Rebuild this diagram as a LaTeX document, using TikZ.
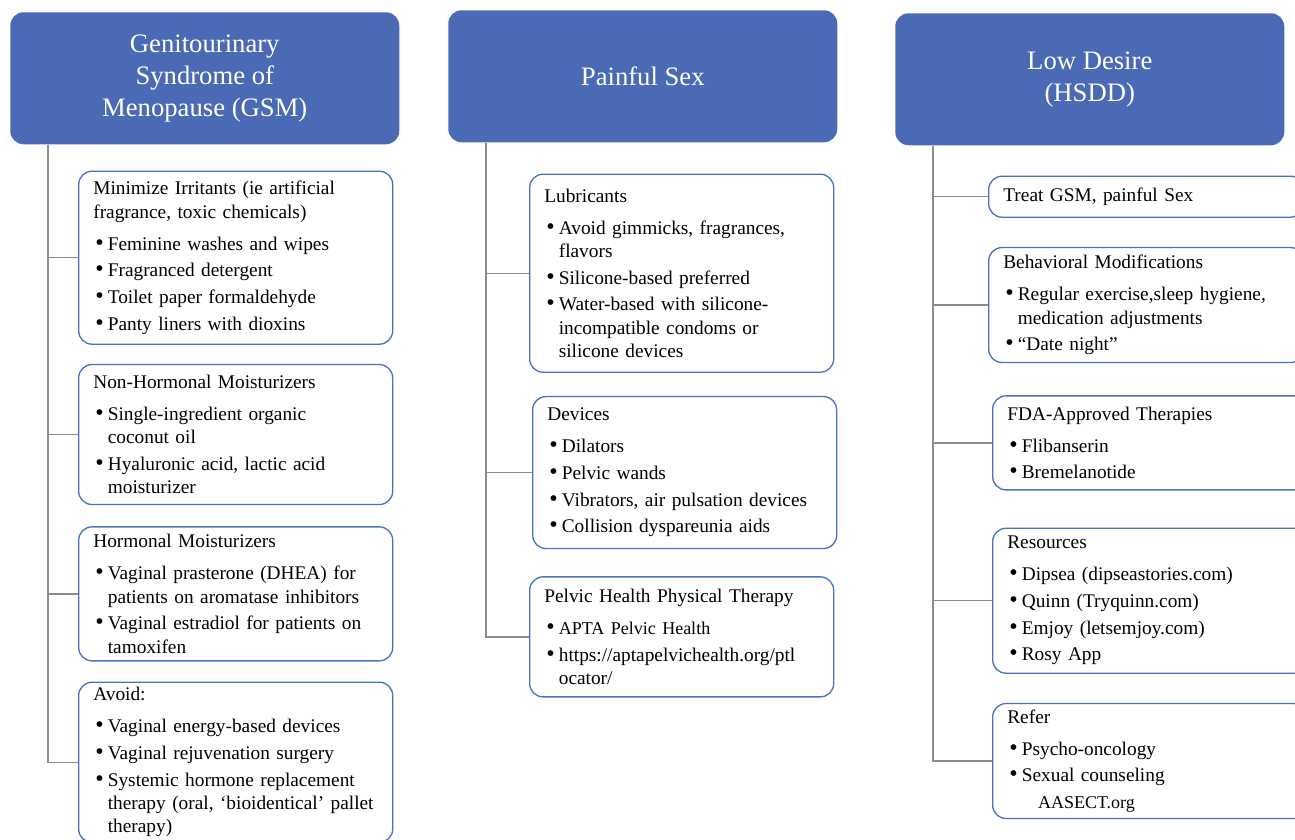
\documentclass[tikz,border=0pt]{standalone}
\usepackage{fontspec}
\setmainfont{Liberation Serif}
\usepackage{tikz}
\usetikzlibrary{positioning}

\definecolor{hdblue}{RGB}{74,106,182}
\definecolor{boxblue}{RGB}{72,114,196}
\definecolor{linkgray}{RGB}{140,140,140}

% heading line of a box, then bullet lines
\newcommand{\hd}[1]{\leftskip=11pt\parskip=2.5pt\relax #1\par\vspace{4pt}}
\newcommand{\itm}{\par\hangindent=0.75em\hangafter=1\hspace*{0.1em}\makebox[0.65em][l]{\fontsize{18}{17.5}\selectfont\textbullet}}

\begin{document}
\begin{tikzpicture}[x=0.75pt, y=-0.75pt,
   cat/.style = {fill=hdblue, rounded corners=10pt, text=white, align=center,
                 anchor=north west, minimum width=291.75pt, minimum height=99pt,
                 font=\fontsize{20}{24}\selectfont},
   sub/.style = {draw=boxblue, line width=1pt, rounded corners=10pt, align=left,
                 inner xsep=0pt, inner ysep=4pt, font=\fontsize{14.5}{17.5}\selectfont},
   col1/.style = {sub, text width=235.5pt},
   col2/.style = {sub, text width=228pt},
   col3/.style = {sub, text width=236.25pt},
   link/.style = {draw=linkgray, line width=1pt}]
   \path[use as bounding box, clip] (0,0) rectangle (1295,839);

   \node[cat] (gsm)  at (10,12)  {Genitourinary\\Syndrome of\\Menopause (GSM)};
   \node[cat] (pain) at (448,10) {Painful Sex};
   \node[cat] (hsdd) at (895,13) {Low Desire\\(HSDD)};

   % Genitourinary Syndrome of Menopause
   \node[col1, minimum height=129.75pt] (irr) [below right=19.5pt and 51pt of gsm.south west]
      {\hd{Minimize Irritants (ie artificial\newline fragrance, toxic chemicals)}
       \itm Feminine washes and wipes
       \itm Fragranced detergent
       \itm Toilet paper formaldehyde
       \itm Panty liners with dioxins\par};
   \node[col1, minimum height=105pt] (nonhorm) [below=14.25pt of irr.south west, anchor=north west]
      {\hd{Non-Hormonal Moisturizers}
       \itm Single-ingredient organic\newline coconut oil
       \itm Hyaluronic acid, lactic acid\newline moisturizer\par};
   \node[col1, minimum height=100.5pt] (horm) [below=15.75pt of nonhorm.south west, anchor=north west]
      {\hd{Hormonal Moisturizers}
       \itm Vaginal prasterone (DHEA) for\newline patients on aromatase inhibitors
       \itm Vaginal estradiol for patients on\newline tamoxifen\par};
   \node[col1, minimum height=120pt] (avoid) [below=15pt of horm.south west, anchor=north west]
      {\hd{Avoid:}
       \itm Vaginal energy-based devices
       \itm Vaginal rejuvenation surgery
       \itm Systemic hormone replacement\newline therapy (oral, ‘bioidentical’ pallet\newline therapy)\par};

   % Painful Sex
   \node[col2, minimum height=148.5pt] (lube) [below right=23.25pt and 60.75pt of pain.south west]
      {\hd{Lubricants}
       \itm Avoid gimmicks, fragrances,\newline flavors
       \itm Silicone-based preferred
       \itm Water-based with silicone-\newline incompatible condoms or\newline silicone devices\par};
   \node[col2, minimum height=114pt] (dev) [below=17.25pt of lube.south west, anchor=north west, xshift=2.25pt]
      {\hd{Devices}
       \itm Dilators
       \itm Pelvic wands
       \itm Vibrators, air pulsation devices
       \itm Collision dyspareunia aids\par};
   \node[col2, minimum height=90pt] (ptx) [below=20.25pt of dev.south west, anchor=north west, xshift=-2.25pt]
      {\hd{Pelvic Health Physical Therapy}
       \itm {\fontsize{13.5}{17.5}\selectfont APTA Pelvic Health}
       \itm https://aptapelvichealth.org/ptl\newline ocator/\par};

   % Low Desire
   \node[col3, minimum height=30.75pt] (treat) [below right=22.5pt and 69.75pt of hsdd.south west]
      {\leftskip=11pt Treat GSM, painful Sex\par};
   \node[col3, minimum height=86.25pt] (behav) [below=21.75pt of treat.south west, anchor=north west]
      {\hd{Behavioral Modifications}
       \itm Regular exercise,sleep hygiene,\newline medication adjustments
       \itm “Date night”\par};
   \node[col3, minimum height=70.5pt] (fda) [below=24pt of behav.south west, anchor=north west, xshift=3pt]
      {\hd{FDA-Approved Therapies}
       \itm Flibanserin
       \itm Bremelanotide\par};
   \node[col3, minimum height=108.75pt] (res) [below=27.75pt of fda.south west, anchor=north west]
      {\hd{Resources}
       \itm Dipsea (dipseastories.com)
       \itm Quinn (Tryquinn.com)
       \itm Emjoy (letsemjoy.com)
       \itm Rosy App\par};
   \node[col3, minimum height=86.25pt] (refer) [below=21.75pt of res.south west, anchor=north west]
      {\hd{Refer}
       \itm Psycho-oncology
       \itm Sexual counseling
       \par\hspace*{23pt}{\fontsize{13.5}{17.5}\selectfont AASECT.org}\par};

   \foreach \h/\b in {gsm/irr, gsm/nonhorm, gsm/horm, gsm/avoid,
                      pain/lube, pain/dev, pain/ptx,
                      hsdd/treat, hsdd/behav, hsdd/fda, hsdd/res, hsdd/refer}
      \draw[link] ([xshift=28.5pt]\h.south west) |- (\b.west);
\end{tikzpicture}
\end{document}
